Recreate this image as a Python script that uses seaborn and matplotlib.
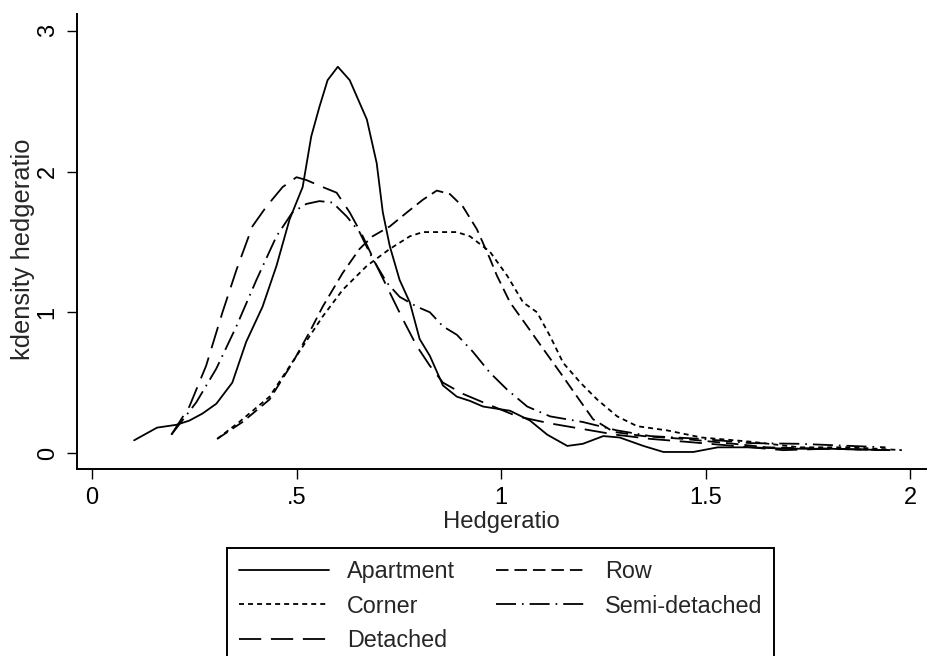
import numpy as np
import pandas as pd
import matplotlib
matplotlib.use("Agg")
import matplotlib.pyplot as plt
import seaborn as sns

# ---- data ----
apartment_x = [0.103, 0.159, 0.206, 0.238, 0.270, 0.304, 0.343, 0.377, 0.417, 0.451, 0.483, 0.515,
               0.536, 0.556, 0.576, 0.601, 0.630, 0.672, 0.696, 0.711, 0.728, 0.752, 0.777, 0.801,
               0.826, 0.858, 0.892, 0.924, 0.956, 1.022, 1.071, 1.113, 1.162, 1.200, 1.250, 1.290,
               1.348, 1.397, 1.470, 1.530, 1.610, 1.700, 1.800, 1.950]
apartment_y = [0.09, 0.18, 0.20, 0.23, 0.28, 0.35, 0.50, 0.79, 1.04, 1.33, 1.66, 1.89,
               2.25, 2.46, 2.65, 2.745, 2.65, 2.37, 2.06, 1.71, 1.47, 1.23, 1.07, 0.81,
               0.69, 0.48, 0.40, 0.37, 0.33, 0.30, 0.23, 0.13, 0.05, 0.065, 0.12, 0.11,
               0.05, 0.007, 0.007, 0.04, 0.04, 0.03, 0.03, 0.02]

detached_x = [0.194, 0.238, 0.279, 0.319, 0.353, 0.392, 0.426, 0.466, 0.500, 0.524, 0.564, 0.598,
              0.630, 0.662, 0.696, 0.728, 0.760, 0.794, 0.826, 0.858, 0.907, 0.956, 1.040, 1.120,
              1.200, 1.280, 1.365, 1.450, 1.570, 1.690, 1.800, 1.950]
detached_y = [0.13, 0.33, 0.62, 1.00, 1.30, 1.61, 1.75, 1.89, 1.96, 1.94, 1.89, 1.85,
              1.71, 1.54, 1.33, 1.14, 0.95, 0.76, 0.62, 0.50, 0.42, 0.36, 0.26, 0.21,
              0.17, 0.13, 0.10, 0.08, 0.05, 0.02, 0.03, 0.02]

semi_x = [0.194, 0.255, 0.304, 0.353, 0.402, 0.451, 0.490, 0.524, 0.556, 0.588, 0.623, 0.654,
          0.686, 0.721, 0.752, 0.794, 0.826, 0.858, 0.892, 0.931, 0.973, 1.015, 1.064, 1.120,
          1.200, 1.284, 1.365, 1.490, 1.610, 1.730, 1.855, 1.940]
semi_y = [0.13, 0.36, 0.60, 0.90, 1.23, 1.54, 1.71, 1.77, 1.79, 1.78, 1.68, 1.57,
          1.38, 1.21, 1.11, 1.04, 1.00, 0.90, 0.84, 0.72, 0.57, 0.45, 0.33, 0.26,
          0.22, 0.16, 0.12, 0.10, 0.07, 0.065, 0.05, 0.04]

row_x = [0.306, 0.368, 0.434, 0.490, 0.532, 0.564, 0.613, 0.654, 0.686, 0.728, 0.770, 0.809,
         0.843, 0.875, 0.907, 0.941, 0.973, 0.990, 1.022, 1.064, 1.103, 1.145, 1.186, 1.225,
         1.275, 1.348, 1.446, 1.570, 1.650, 1.800, 1.950]
row_y = [0.10, 0.22, 0.38, 0.64, 0.86, 1.04, 1.28, 1.45, 1.54, 1.61, 1.71, 1.80,
         1.865, 1.84, 1.75, 1.59, 1.38, 1.26, 1.07, 0.90, 0.74, 0.57, 0.40, 0.24,
         0.15, 0.12, 0.10, 0.065, 0.04, 0.03, 0.02]

corner_x = [0.306, 0.360, 0.434, 0.500, 0.564, 0.613, 0.672, 0.728, 0.777, 0.809, 0.892, 0.924,
            0.973, 1.015, 1.054, 1.088, 1.120, 1.152, 1.194, 1.235, 1.284, 1.333, 1.407, 1.490,
            1.610, 1.730, 1.855, 1.980]
corner_y = [0.10, 0.22, 0.40, 0.69, 0.97, 1.16, 1.33, 1.45, 1.54, 1.57, 1.57, 1.54,
            1.43, 1.26, 1.07, 1.00, 0.83, 0.64, 0.50, 0.38, 0.26, 0.19, 0.16, 0.11,
            0.08, 0.04, 0.04, 0.02]

categories = ["Apartment", "Corner", "Detached", "Row", "Semi-detached"]
x_ticks = [0, 0.5, 1, 1.5, 2]
x_tick_labels = ["0", ".5", "1", "1.5", "2"]
y_ticks = [0, 1, 2, 3]
y_tick_labels = ["0", "1", "2", "3"]

series = {
    "Apartment": (apartment_x, apartment_y),
    "Corner": (corner_x, corner_y),
    "Detached": (detached_x, detached_y),
    "Row": (row_x, row_y),
    "Semi-detached": (semi_x, semi_y),
}
df = pd.concat(
    [pd.DataFrame({"Hedgeratio": xs, "density": ys, "type": name})
     for name, (xs, ys) in series.items()],
    ignore_index=True,
)

# ---- style ----
sns.set_style("ticks")
plt.rcParams["font.family"] = ["Liberation Sans", "DejaVu Sans"]
plt.rcParams["lines.scale_dashes"] = False
FS_TICK = 17
FS_LEG = 16.8
FS_XLAB = 17.2
FS_YLAB = 18.4
LW = 1.3

dash_map = {
    "Apartment": "",
    "Corner": (3.6, 2.9),
    "Detached": (16, 7),
    "Row": (9, 4.3),
    "Semi-detached": (14.4, 4.3, 1.2, 4.3),
}

fig = plt.figure(figsize=(9.46, 6.56), dpi=100)
L, R, B, T = 77 / 946, 926 / 946, 1 - 469 / 656, 1 - 14 / 656
ax = fig.add_axes([L, B, R - L, T - B])

sns.lineplot(data=df, x="Hedgeratio", y="density", style="type",
             style_order=categories, dashes=dash_map, color="black",
             linewidth=LW, estimator=None, sort=True, ax=ax)

ax.set_xlim(-0.0367, 2.039)
ax.set_ylim(-0.114, 3.12)
ax.set_xticks(x_ticks)
ax.set_xticklabels(x_tick_labels, fontsize=FS_TICK)
ax.set_yticks(y_ticks)
ax.set_yticklabels(y_tick_labels, fontsize=FS_TICK, rotation=90, va="center")
ax.tick_params(direction="out", length=7.2, width=1.0, pad=6, colors="black")
ax.set_xlabel("Hedgeratio", fontsize=FS_XLAB, labelpad=1)
ax.set_ylabel("kdensity hedgeratio", fontsize=FS_YLAB, labelpad=1)
ax.yaxis.label.set_y(0.483)
sns.despine(ax=ax)
for s in ["left", "bottom"]:
    ax.spines[s].set_linewidth(1.4)
    ax.spines[s].set_color("black")

# legend: row-major order (Apartment, Row / Corner, Semi-detached / Detached)
old = ax.get_legend()
handles = list(old.legend_handles)
labels = [t.get_text() for t in old.get_texts()]
old.remove()
hmap = dict(zip(labels, handles))
order = ["Apartment", "Corner", "Detached", "Row", "Semi-detached"]
leg = fig.legend([hmap[k] for k in order], order, ncol=2, loc="upper center",
                 bbox_to_anchor=(500.5 / 946, 1 - 548 / 656),
                 bbox_transform=fig.transFigure, fontsize=FS_LEG, frameon=True,
                 fancybox=False, shadow=False, framealpha=1, edgecolor="black",
                 handlelength=3.85, handletextpad=0.8, columnspacing=1.75,
                 labelspacing=0.49, borderpad=0.52, borderaxespad=0)
leg.get_frame().set_linewidth(1.4)
for h in leg.legend_handles:
    h.set_color("black")
    h.set_linewidth(LW)

fig.savefig("out.png", dpi=100)
